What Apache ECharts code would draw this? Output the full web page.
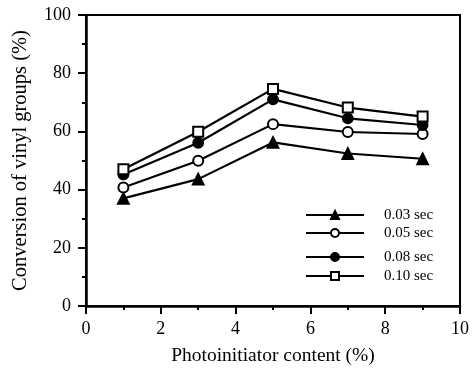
<!DOCTYPE html>
<html>
<head>
<meta charset="utf-8">
<script src="https://cdn.jsdelivr.net/npm/echarts@6/dist/echarts.min.js"></script>
<style>
  html, body { margin: 0; padding: 0; background: #fff; }
  #chart { width: 472px; height: 373px; }
</style>
</head>
<body>
<div id="chart"></div>
<script>
// photoinitiator content (%)
const contents = [1, 3, 5, 7, 9];
const seriesNames = ['0.03 sec', '0.05 sec', '0.08 sec', '0.10 sec'];
const conv003 = [37.0, 43.6, 56.2, 52.4, 50.6];
const conv005 = [40.7, 49.9, 62.5, 59.8, 59.1];
const conv008 = [45.2, 56.1, 71.0, 64.5, 62.2];
const conv010 = [47.0, 59.9, 74.6, 68.2, 65.1];
const symbols = ['triangle', 'emptyCircle', 'circle', 'emptyRect'];
const symbolSizes = [11, 10, 10, 10];

const chart = echarts.init(document.getElementById('chart'));
const font = 'Liberation Serif';

const toPairs = (vals) => contents.map((x, i) => [x, vals[i]]);
const allData = [conv003, conv005, conv008, conv010];

const series = allData.map((vals, i) => ({
  name: seriesNames[i],
  type: 'line',
  data: toPairs(vals),
  symbol: symbols[i],
  symbolSize: symbolSizes[i],
  lineStyle: { color: '#000', width: 2.2 },
  itemStyle: { color: '#000', borderColor: '#000', borderWidth: 1.8 },
  emphasis: { disabled: true },
  z: 3 + i
}));

const legendBase = {
  orient: 'vertical',
  left: 300,
  itemWidth: 58,
  itemHeight: 10,
  textStyle: {
    fontFamily: font, fontSize: 15, lineHeight: 16, color: '#000',
    padding: [0, 0, 0, 15]
  },
  selectedMode: false
};

const option = {
  animation: false,
  grid: {
    left: 86,
    right: 11,
    top: 15,
    bottom: 67,
    show: true,
    borderColor: '#000',
    borderWidth: 2
  },
  legend: [
    Object.assign({}, legendBase, { top: 202, itemGap: 2, data: seriesNames.slice(0, 2) }),
    Object.assign({}, legendBase, { top: 244, itemGap: 3, data: seriesNames.slice(2) })
  ],
  xAxis: {
    type: 'value',
    min: 0,
    max: 10,
    interval: 2,
    name: 'Photoinitiator content (%)',
    nameLocation: 'middle',
    nameGap: 40,
    nameTextStyle: { fontFamily: font, fontSize: 19.5, color: '#000' },
    axisLine: { lineStyle: { color: '#000', width: 2.5 } },
    axisTick: { length: 8, lineStyle: { color: '#000', width: 2 } },
    minorTick: { show: true, splitNumber: 2, length: 4, lineStyle: { color: '#000', width: 2 } },
    axisLabel: { fontFamily: font, fontSize: 18, color: '#000', margin: 14 },
    splitLine: { show: false }
  },
  yAxis: {
    type: 'value',
    min: 0,
    max: 100,
    interval: 20,
    name: 'Conversion of vinyl groups (%)',
    nameLocation: 'middle',
    nameGap: 55,
    nameTextStyle: { fontFamily: font, fontSize: 20.5, color: '#000' },
    axisLine: { lineStyle: { color: '#000', width: 2.5 } },
    axisTick: { length: 8, lineStyle: { color: '#000', width: 2 } },
    minorTick: { show: true, splitNumber: 2, length: 4, lineStyle: { color: '#000', width: 2 } },
    axisLabel: { fontFamily: font, fontSize: 18, color: '#000', margin: 15 },
    splitLine: { show: false }
  },
  series: series
};

chart.setOption(option);
</script>
</body>
</html>
